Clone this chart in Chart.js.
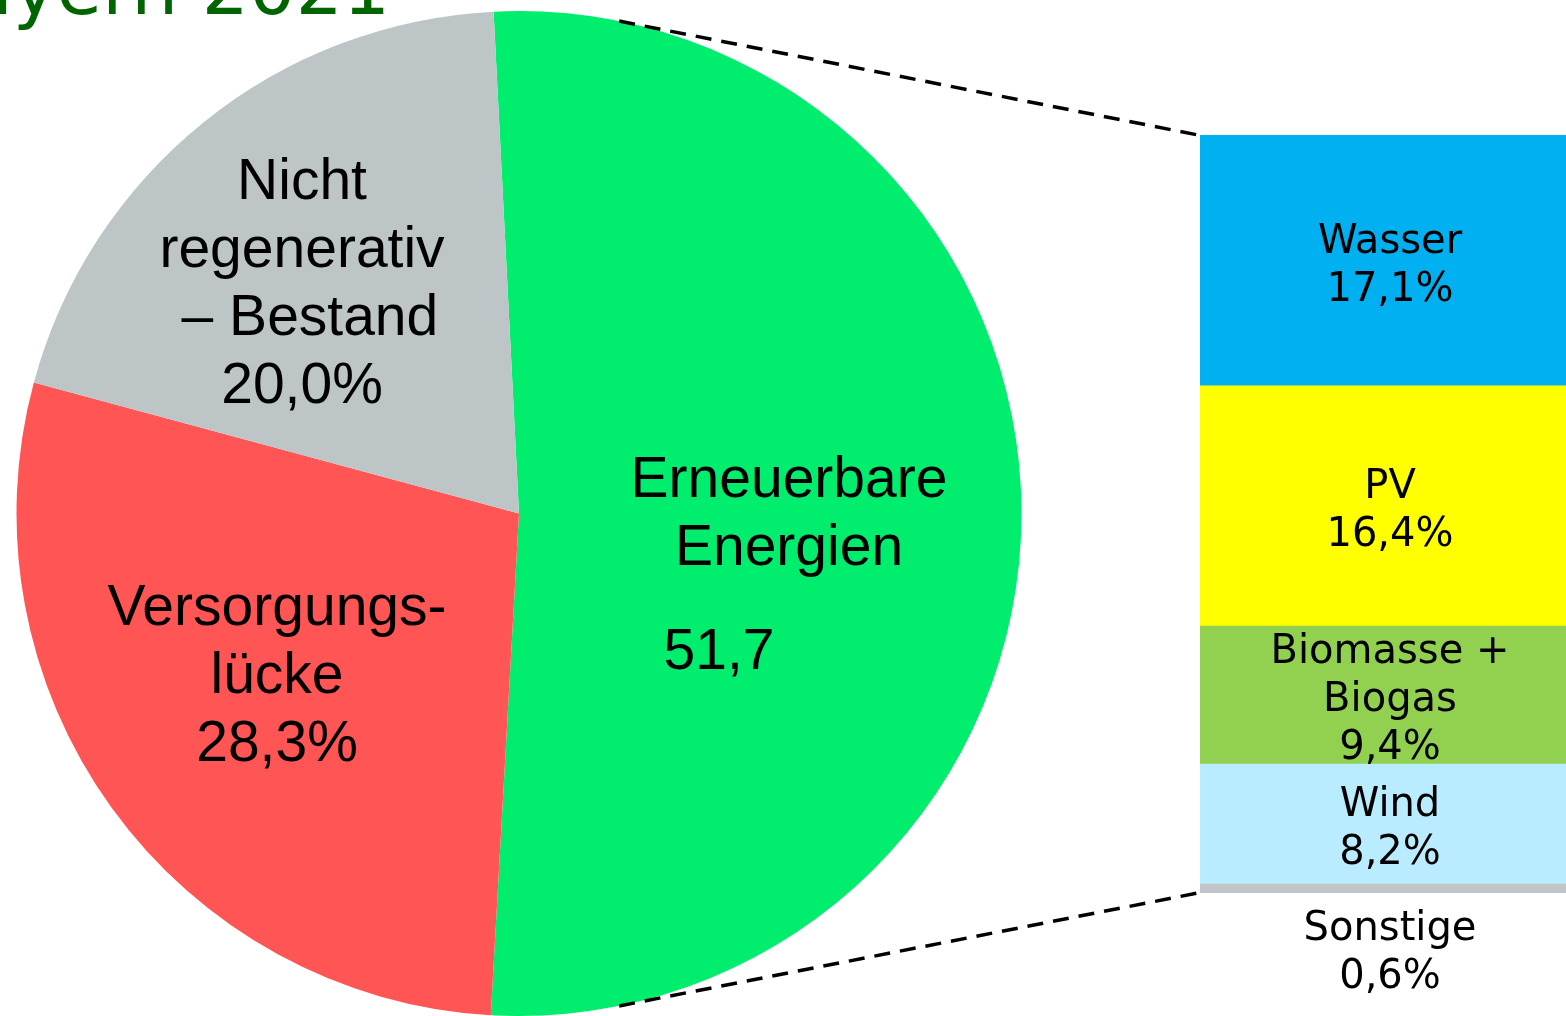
<!DOCTYPE html>
<html>
<head>
<meta charset="utf-8">
<script src="https://cdn.jsdelivr.net/npm/chart.js@4.4.0/dist/chart.umd.min.js"></script>
<style>
    html, body { margin: 0; padding: 0; background: #fff; overflow: hidden; }
    .layer { position: absolute; left: 0; top: 0; width: 1566px; height: 1016px; }
</style>
</head>
<body>
<div class="layer"><canvas id="pie-canvas"></canvas></div>
<div class="layer"><canvas id="bar-canvas"></canvas></div>
<script>
// Anteile am Stromverbrauch (Prozent)
const sliceLabels = ['Erneuerbare Energien', 'Versorgungslücke', 'Nicht regenerativ – Bestand'];
const sliceValues = [51.7, 28.3, 20.0];
const sliceColors = ['#00ED6E', '#FF5555', '#BDC5C6'];

// Aufteilung der Erneuerbaren, von unten nach oben gestapelt
const sourceLabels = ['Sonstige', 'Wind', 'Biomasse + Biogas', 'PV', 'Wasser'];
const sourceValues = [0.6, 8.2, 9.4, 16.4, 17.1];
const sourceColors = ['#C0C6C8', '#B9ECFF', '#92D050', '#FFFF00', '#00B0F0'];

const TITLE = 'Bayern 2021';

Chart.defaults.animation = false;
Chart.defaults.plugins.legend.display = false;
Chart.defaults.plugins.tooltip.enabled = false;

const fmt = v => v.toFixed(1).replace('.', ',');

// Beschriftung der Tortenstücke (Zeilen, Mitte x, erste Zeile y)
const pieText = [
    { lines: ['Erneuerbare', 'Energien'], x: 789, y: 481 },
    { lines: ['Versorgungs-', 'lücke', fmt(sliceValues[1]) + '%'], x: 277, y: 609 },
    { lines: ['Nicht', 'regenerativ', ' – Bestand', fmt(sliceValues[2]) + '%'], x: 302, y: 183 }
];

function drawLines(ctx, lines, x, y, step) {
    lines.forEach((t, i) => ctx.fillText(t, x, y + i * step));
}

const barLabelPlugin = {
    id: 'barLabels',
    afterDatasetsDraw(chart) {
        const ctx = chart.ctx;
        ctx.save();
        ctx.fillStyle = '#000';
        ctx.font = '40px "DejaVu Sans", Verdana, sans-serif';
        ctx.textAlign = 'center';
        ctx.textBaseline = 'middle';
        chart.data.datasets.forEach((ds, i) => {
            const bar = chart.getDatasetMeta(i).data[0];
            const words = ds.label === 'Biomasse + Biogas' ? ['Biomasse +', 'Biogas'] : [ds.label];
            const lines = words.concat(fmt(ds.data[0]) + '%');
            const step = 48;
            let y0;
            if (i === 0) {
                // Sonstige: zu schmal, Text unter dem Balken
                y0 = bar.base + 37;
            } else {
                const mid = (bar.y + bar.base) / 2 + 6;
                y0 = mid - (lines.length - 1) * step / 2;
            }
            drawLines(ctx, lines, bar.x + 7, y0, step);
        });
        ctx.restore();
    }
};

const barChart = new Chart(document.querySelector('#bar-canvas'), {
    type: 'bar',
    data: {
        labels: ['Erneuerbare'],
        datasets: sourceLabels.map((name, i) => ({
            label: name,
            data: [sourceValues[i]],
            backgroundColor: sourceColors[i],
            borderWidth: 0,
            barPercentage: 1,
            categoryPercentage: 1
        }))
    },
    options: {
        responsive: true,
        maintainAspectRatio: false,
        layout: { padding: { left: 1200, right: 0, top: 135, bottom: 123 } },
        scales: {
            x: { display: false, stacked: true },
            y: { display: false, stacked: true, min: 0, max: sourceValues.reduce((a, b) => a + b, 0) }
        }
    },
    plugins: [barLabelPlugin]
});

const pieDecorPlugin = {
    id: 'pieDecor',
    afterDatasetsDraw(chart) {
        const ctx = chart.ctx;
        const arc = chart.getDatasetMeta(0).data[0];
        ctx.save();

        // Titel, oben angeschnitten
        ctx.fillStyle = '#006400';
        ctx.font = '74px "DejaVu Sans", Verdana, sans-serif';
        ctx.textAlign = 'right';
        ctx.textBaseline = 'alphabetic';
        ctx.fillText(TITLE, 390, 14);

        // Beschriftung
        ctx.fillStyle = '#000';
        ctx.font = '57px "Liberation Sans", Arial, sans-serif';
        ctx.textAlign = 'center';
        ctx.textBaseline = 'middle';
        pieText.forEach(p => drawLines(ctx, p.lines, p.x, p.y, 68));
        ctx.fillText(fmt(sliceValues[0]), 719, 653);

        // gestrichelte Verbindung zum Balken
        const area = barChart.chartArea;
        const a = 11.5 * Math.PI / 180;
        const r = arc.outerRadius;
        ctx.strokeStyle = '#000';
        ctx.lineWidth = 3.5;
        ctx.setLineDash([16, 10]);
        ctx.beginPath();
        ctx.moveTo(arc.x + r * Math.sin(a), arc.y - r * Math.cos(a));
        ctx.lineTo(area.left - 2, area.top);
        ctx.moveTo(arc.x + r * Math.sin(a), arc.y + r * Math.cos(a));
        ctx.lineTo(area.left - 2, area.bottom);
        ctx.stroke();
        ctx.restore();
    }
};

new Chart(document.querySelector('#pie-canvas'), {
    type: 'pie',
    data: {
        labels: sliceLabels,
        datasets: [{
            data: sliceValues,
            backgroundColor: sliceColors,
            borderWidth: 0,
            hoverOffset: 0,
            offset: 0
        }]
    },
    options: {
        responsive: true,
        maintainAspectRatio: false,
        rotation: -2.9,
        layout: { padding: { left: 15, right: 543, top: 11, bottom: -3 } }
    },
    plugins: [pieDecorPlugin]
});
</script>
</body>
</html>
